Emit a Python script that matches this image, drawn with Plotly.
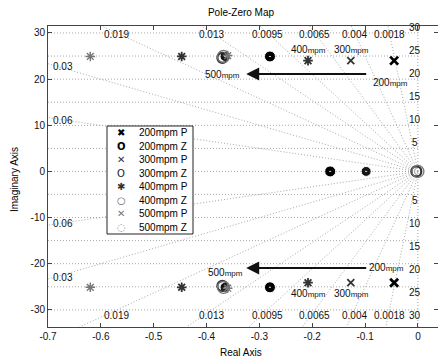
import numpy as np
import plotly.graph_objects as go

# ---------------- data ----------------
series_names = ["200mpm P", "200mpm Z", "300mpm P", "300mpm Z",
                "400mpm P", "400mpm Z", "500mpm P", "500mpm Z"]
p200_re = [-0.045, -0.045]
p200_im = [24.0, -24.1]
z200_re = [-0.28, -0.28, -0.166]
z200_im = [24.9, -25.1, 0.0]
p300_re = [-0.127, -0.127]
p300_im = [24.0, -24.1]
z300_re = [-0.365, -0.365, -0.098]
z300_im = [24.9, -25.1, 0.0]
p400_re = [-0.208, -0.208, -0.447, -0.447]
p400_im = [24.0, -24.1, 24.9, -25.1]
z400_re = [-0.37, -0.37, -0.003]
z400_im = [24.6, -24.8, 0.0]
p500_re = [-0.36, -0.36, -0.62, -0.62]
p500_im = [25.1, -25.3, 24.9, -25.1]
z500_re = [-0.368, -0.368, 0.0]
z500_im = [24.9, -25.1, 0.0]

zeta_vals = [0.0018, 0.004, 0.0065, 0.0095, 0.013, 0.019, 0.03, 0.06]
zeta_labels = ["0.0018", "0.004", "0.0065", "0.0095", "0.013", "0.019", "0.03", "0.06"]
wn_vals = [5, 10, 15, 20, 25, 30]
wn_labels = ["5", "10", "15", "20", "25", "30"]
x_ticks = [-0.7, -0.6, -0.5, -0.4, -0.3, -0.2, -0.1, 0.0]
x_ticktext = ["-0.7", "-0.6", "-0.5", "-0.4", "-0.3", "-0.2", "-0.1", "0"]
y_ticks = [-30, -20, -10, 0, 10, 20, 30]
y_ticktext = ["-30", "-20", "-10", "0", "10", "20", "30"]

# ---------------- layout constants ----------------
XMIN, XMAX = -0.7, 0.038
YMIN, YMAX = -33.7, 31.5
FONT = "Liberation Sans, Arial, sans-serif"
GRID = "#a8a8a8"
W, H = 438, 360
ML, MR, MT, MB = 48, 0, 26, 33
PW, PH = W - ML - MR, H - MT - MB

def px2paper_x(px):
    return (px - ML) / PW

def px2paper_y(py):
    return (H - MB - py) / PH

fig = go.Figure()

# ---- damping (zeta) radial grid lines ----
gx, gy = [], []
for z in zeta_vals:
    s = np.sqrt(1 - z * z)
    w_up = min(YMAX / s, -XMIN / z)
    w_dn = min(-YMIN / s, -XMIN / z)
    gx += [0, -z * w_up, None, 0, -z * w_dn, None]
    gy += [0, w_up * s, None, 0, -w_dn * s, None]
# ---- natural-frequency arcs ----
for wn in wn_vals:
    xs = np.linspace(XMIN, 0, 30)
    ys = np.sqrt(wn ** 2 - xs ** 2)
    gx += list(xs) + [None] + list(xs) + [None]
    gy += list(ys) + [None] + list(-ys) + [None]
# real axis & imaginary axis
gx += [XMIN, 0, None, 0, 0, None]
gy += [0, 0, None, YMIN, YMAX, None]
fig.add_trace(go.Scatter(x=gx, y=gy, mode="lines", hoverinfo="skip",
                         line=dict(color=GRID, width=1, dash="1px,2px"),
                         showlegend=False))

# ---- series ----
# (x, y, symbol, size, line width, fill colour, line colour)
styles = [
    (p200_re, p200_im, "x-thin-open", 8, 2.8, "#000000", "#000000"),
    (z200_re, z200_im, "circle-dot", 11, 1.0, "#000000", "#ffffff"),
    (p300_re, p300_im, "x-thin-open", 7, 1.8, "#333333", "#333333"),
    (z300_re, z300_im, "circle-dot", 10, 1.0, "#161616", "#ffffff"),
    (p400_re, p400_im, "asterisk-open", 8, 1.8, "#333333", "#333333"),
    (z400_re, z400_im, "circle-open", 10, 2.2, "#333333", "#333333"),
    (p500_re, p500_im, "asterisk-open", 8, 1.4, "#777777", "#777777"),
    (z500_re, z500_im, "circle-open", 12, 1.3, "#777777", "#777777"),
]
for name, (xr, yi, sym, sz, lw, col, lcol) in zip(series_names, styles):
    fig.add_trace(go.Scatter(x=xr, y=yi, mode="markers", name=name,
                             marker=dict(symbol=sym, size=sz, color=col,
                                         line=dict(width=lw, color=lcol)),
                             showlegend=False))

ann = []
# zeta labels
for z, lab in zip(zeta_vals, zeta_labels):
    s = np.sqrt(1 - z * z)
    y_left = -XMIN * s / z
    if y_left < 30:
        ann.append(dict(x=-0.695, y=y_left - 0.6, text=lab, xanchor="left", yanchor="middle"))
        ann.append(dict(x=-0.695, y=-(y_left - 0.4), text=lab, xanchor="left", yanchor="middle"))
    else:
        xt = -z / s * 30
        ann.append(dict(x=xt, y=29.6, text=lab, xanchor="center", yanchor="middle"))
        ann.append(dict(x=xt, y=-31.3, text=lab, xanchor="center", yanchor="middle"))
# wn labels
for wn, lab in zip(wn_vals, wn_labels):
    ann.append(dict(x=-0.005, y=wn + 1.2, text=lab, xanchor="center", yanchor="middle"))
    ann.append(dict(x=-0.005, y=-(wn + 1.2), text=lab, xanchor="center", yanchor="middle"))
for a in ann:
    a.update(xref="x", yref="y", showarrow=False, font=dict(family=FONT, size=10, color="#111"))

# arrows
for yv in (21.1, -20.9):
    ann.append(dict(x=-0.325, y=yv, ax=-0.095, ay=yv, xref="x", yref="y",
                    axref="x", ayref="y", showarrow=True, arrowhead=2,
                    arrowsize=1.3, arrowwidth=2, arrowcolor="#111", text=""))

def rpm(v):
    return f"{v}<span style='font-size:8px'>mpm</span>"

lab_font = dict(family=FONT, size=10, color="#111")
ann += [
    dict(x=-0.333, y=21.1, text=rpm(500), xanchor="right", yanchor="middle"),
    dict(x=-0.328, y=-22.0, text=rpm(500), xanchor="right", yanchor="middle"),
    dict(x=-0.088, y=19.2, text=rpm(200), xanchor="left", yanchor="middle"),
    dict(x=-0.097, y=-20.9, text=rpm(200), xanchor="left", yanchor="middle"),
    dict(x=-0.208, y=26.4, text=rpm(400), xanchor="center", yanchor="middle"),
    dict(x=-0.208, y=-26.4, text=rpm(400), xanchor="center", yanchor="middle"),
    dict(x=-0.125, y=26.4, text=rpm(300), xanchor="center", yanchor="middle"),
    dict(x=-0.125, y=-26.4, text=rpm(300), xanchor="center", yanchor="middle"),
]
for a in ann[-8:]:
    a.update(xref="x", yref="y", showarrow=False, font=lab_font)

# manual legend (box + glyph + text)
leg_glyphs = ["✖", "<b>O</b>", "✕", "O", "✱", "○", "✕", "◌"]
leg_colors = ["#000", "#000", "#333", "#222", "#333", "#666", "#777", "#888"]
leg_top, leg_bot = 126, 234
step = (leg_bot - leg_top) / len(series_names)
for i, (nm, g, c) in enumerate(zip(series_names, leg_glyphs, leg_colors)):
    yc = px2paper_y(leg_top + step * (i + 0.5))
    ann.append(dict(x=px2paper_x(121), y=yc, xref="paper", yref="paper", text=g,
                    showarrow=False, xanchor="center", yanchor="middle",
                    font=dict(family="DejaVu Sans, Liberation Sans", size=10, color=c)))
    ann.append(dict(x=px2paper_x(137), y=yc, xref="paper", yref="paper", text=nm,
                    showarrow=False, xanchor="left", yanchor="middle",
                    font=dict(family=FONT, size=10, color="#000")))

# axis titles
ann.append(dict(x=px2paper_x(241), y=px2paper_y(353), xref="paper", yref="paper",
                text="Real Axis", showarrow=False, xanchor="center", yanchor="middle",
                font=dict(family=FONT, size=10, color="#000")))
ann.append(dict(x=px2paper_x(14), y=px2paper_y(180), xref="paper", yref="paper",
                text="Imaginary Axis", showarrow=False, textangle=-90,
                xanchor="center", yanchor="middle",
                font=dict(family=FONT, size=10, color="#000")))

shapes = [dict(type="rect", xref="paper", yref="paper",
               x0=px2paper_x(107), x1=px2paper_x(193),
               y0=px2paper_y(leg_bot), y1=px2paper_y(leg_top),
               line=dict(color="#222", width=1), fillcolor="white", layer="above")]

axis_common = dict(showgrid=False, zeroline=False, showline=True, linecolor="#444",
                   linewidth=1, mirror="ticks", ticks="inside", ticklen=4,
                   tickcolor="#444", tickfont=dict(family=FONT, size=10, color="#111"))
fig.update_layout(
    width=W, height=H,
    margin=dict(l=ML, r=MR, t=MT, b=MB),
    paper_bgcolor="white", plot_bgcolor="white",
    title=dict(text="Pole-Zero Map", x=241 / W,
               xref="container", y=1 - 12 / H, yref="container",
               xanchor="center", yanchor="middle",
               font=dict(family=FONT, size=10, color="#000")),
    xaxis=dict(range=[XMIN, XMAX], tickvals=x_ticks, ticktext=x_ticktext, **axis_common),
    yaxis=dict(range=[YMIN, YMAX], tickvals=y_ticks, ticktext=y_ticktext, **axis_common),
    annotations=ann, shapes=shapes, showlegend=False,
)

fig.write_html("out.html")
